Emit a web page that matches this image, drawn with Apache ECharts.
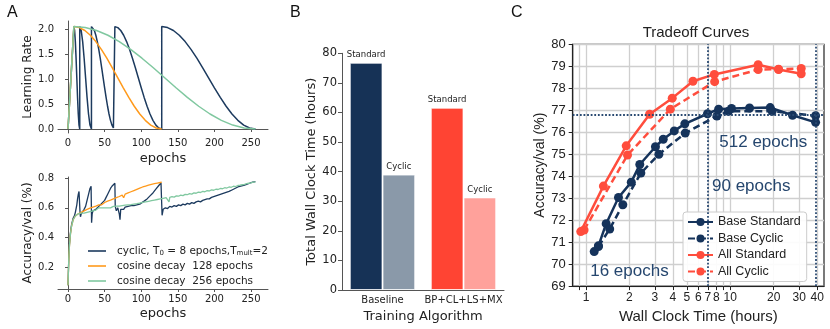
<!DOCTYPE html>
<html>
<head>
<meta charset="utf-8">
<script src="https://cdn.jsdelivr.net/npm/echarts@6/dist/echarts.min.js"></script>
<style>
  html, body { margin: 0; padding: 0; background: #fff; }
  #chart { width: 830px; height: 329px; }
</style>
</head>
<body>
<div id="chart"></div>
<script>
// ---- panel A: learning rate schedules [epoch, lr]
const lrCyclic = [
  [0, 0], [8, 2.048], [9, 1.970], [10, 1.748], [11, 1.416], [12, 1.024], [13, 0.632], [14, 0.300], [15, 0.078], [16, 0],
  [16, 2.048], [18, 1.970], [20, 1.748], [22, 1.416], [24, 1.024], [26, 0.632], [28, 0.300], [30, 0.078], [32, 0],
  [32, 2.048], [34, 2.028], [36, 1.970], [38, 1.875], [40, 1.748], [42, 1.593], [44, 1.416], [46, 1.224], [48, 1.024],
  [50, 0.824], [52, 0.632], [54, 0.455], [56, 0.300], [58, 0.173], [60, 0.078], [62, 0.020], [64, 0],
  [64, 2.048], [68, 2.028], [72, 1.970], [76, 1.875], [80, 1.748], [84, 1.593], [88, 1.416], [92, 1.224], [96, 1.024],
  [100, 0.824], [104, 0.632], [108, 0.455], [112, 0.300], [116, 0.173], [120, 0.078], [124, 0.020], [128, 0],
  [128, 2.048], [136, 2.028], [144, 1.970], [152, 1.875], [160, 1.748], [168, 1.593], [176, 1.416], [184, 1.224], [192, 1.024],
  [200, 0.824], [208, 0.632], [216, 0.455], [224, 0.300], [232, 0.173], [240, 0.078], [248, 0.020], [256, 0]
];
const lrCos128 = [
  [0, 0], [8, 2.048], [15.5, 2.028], [23, 1.970], [30.5, 1.875], [38, 1.748], [45.5, 1.593], [53, 1.416], [60.5, 1.224],
  [68, 1.024], [75.5, 0.824], [83, 0.632], [90.5, 0.455], [98, 0.300], [105.5, 0.173], [113, 0.078], [120.5, 0.020], [128, 0]
];
const lrCos256 = [
  [0, 0], [8, 2.048], [23.5, 2.028], [39, 1.970], [54.5, 1.875], [70, 1.748], [85.5, 1.593], [101, 1.416], [116.5, 1.224],
  [132, 1.024], [147.5, 0.824], [163, 0.632], [178.5, 0.455], [194, 0.300], [209.5, 0.173], [225, 0.078], [240.5, 0.020], [256, 0]
];

// ---- panel A: validation accuracy [epoch, acc]
const accCyclic = [
  [0, 0.08], [1, 0.26], [2, 0.36], [3, 0.42], [4, 0.46], [5, 0.49], [6, 0.51], [7, 0.53], [8, 0.54], [9, 0.55], [10, 0.57],
  [11, 0.58], [12, 0.62], [13, 0.66], [14, 0.69], [15, 0.71], [16, 0.70], [16.5, 0.56], [17, 0.54], [18, 0.56], [20, 0.57],
  [22, 0.59], [24, 0.61], [26, 0.65], [28, 0.69], [30, 0.73], [31.5, 0.745], [32.2, 0.50], [33, 0.56], [34, 0.58], [36, 0.57],
  [38, 0.59], [40, 0.60], [42, 0.61], [44, 0.60], [46, 0.63], [48, 0.64], [50, 0.65], [52, 0.67], [54, 0.69], [56, 0.71],
  [58, 0.73], [60, 0.745], [62, 0.755], [64, 0.765], [64.5, 0.61], [66, 0.58], [68, 0.60], [70, 0.56], [71, 0.52], [72, 0.59],
  [74, 0.60], [76, 0.59], [78, 0.605], [80, 0.60], [82, 0.61], [84, 0.60], [86, 0.615], [88, 0.62], [90, 0.615], [92, 0.625],
  [94, 0.62], [96, 0.63], [98, 0.625], [100, 0.635], [104, 0.645], [108, 0.66], [112, 0.68], [116, 0.70], [120, 0.725],
  [124, 0.75], [127, 0.768], [128, 0.772], [128.5, 0.55], [130, 0.59], [133, 0.60], [136, 0.595], [139, 0.61], [142, 0.605],
  [145, 0.615], [148, 0.61], [151, 0.62], [154, 0.615], [157, 0.625], [160, 0.62], [163, 0.63], [166, 0.625], [169, 0.635],
  [172, 0.63], [175, 0.64], [178, 0.645], [181, 0.64], [184, 0.65], [187, 0.655], [190, 0.66], [193, 0.66], [196, 0.67],
  [199, 0.675], [202, 0.68], [205, 0.685], [208, 0.69], [211, 0.695], [214, 0.70], [217, 0.705], [220, 0.71], [224, 0.72],
  [228, 0.73], [232, 0.74], [236, 0.745], [240, 0.75], [244, 0.758], [248, 0.765], [252, 0.772], [256, 0.776]
];
const accCos128 = [
  [0, 0.08], [1, 0.25], [2, 0.35], [3, 0.41], [4, 0.45], [5, 0.48], [6, 0.50], [7, 0.52], [8, 0.53], [10, 0.545], [12, 0.555],
  [14, 0.56], [16, 0.565], [18, 0.57], [20, 0.575], [22, 0.58], [24, 0.585], [26, 0.59], [28, 0.592], [30, 0.598], [32, 0.60],
  [34, 0.605], [36, 0.61], [38, 0.612], [40, 0.618], [42, 0.62], [44, 0.626], [46, 0.62], [48, 0.632], [50, 0.636], [52, 0.64],
  [54, 0.645], [56, 0.642], [58, 0.652], [60, 0.655], [62, 0.66], [64, 0.664], [66, 0.668], [68, 0.664], [70, 0.676], [72, 0.68],
  [74, 0.685], [76, 0.668], [78, 0.692], [80, 0.696], [82, 0.70], [84, 0.69], [86, 0.708], [88, 0.712], [90, 0.716], [92, 0.72],
  [94, 0.724], [96, 0.728], [98, 0.732], [100, 0.736], [102, 0.74], [104, 0.743], [106, 0.746], [108, 0.75], [110, 0.752],
  [112, 0.755], [114, 0.758], [116, 0.76], [118, 0.762], [120, 0.764], [122, 0.766], [124, 0.768], [126, 0.77], [128, 0.772]
];
const accCos256 = [
  [0, 0.08], [1, 0.25], [2, 0.35], [3, 0.41], [4, 0.45], [5, 0.48], [6, 0.50], [7, 0.52], [8, 0.53], [10, 0.545], [12, 0.55],
  [14, 0.56], [16, 0.555], [18, 0.565], [20, 0.57], [22, 0.565], [24, 0.575], [26, 0.57], [28, 0.58], [30, 0.575], [32, 0.585],
  [34, 0.58], [36, 0.59], [38, 0.585], [40, 0.59], [42, 0.60], [44, 0.59], [46, 0.60], [48, 0.595], [50, 0.60], [52, 0.605],
  [54, 0.60], [56, 0.61], [58, 0.60], [60, 0.605], [62, 0.61], [64, 0.605], [66, 0.612], [68, 0.60], [70, 0.612], [72, 0.61],
  [74, 0.615], [76, 0.605], [78, 0.618], [80, 0.615], [82, 0.62], [84, 0.61], [86, 0.622], [88, 0.618], [90, 0.625], [92, 0.62],
  [94, 0.628], [96, 0.625], [98, 0.632], [100, 0.63], [102, 0.636], [104, 0.632], [106, 0.64], [108, 0.636], [110, 0.644],
  [112, 0.64], [114, 0.648], [116, 0.645], [118, 0.652], [120, 0.65], [122, 0.656], [124, 0.652], [126, 0.66], [128, 0.658],
  [130, 0.664], [132, 0.66], [134, 0.668], [136, 0.665], [138, 0.64], [139, 0.67], [142, 0.675], [145, 0.672], [148, 0.68],
  [151, 0.678], [154, 0.685], [157, 0.682], [160, 0.69], [163, 0.688], [166, 0.695], [169, 0.692], [172, 0.70], [175, 0.698],
  [178, 0.705], [181, 0.703], [184, 0.71], [187, 0.708], [190, 0.715], [193, 0.713], [196, 0.72], [199, 0.718], [202, 0.725],
  [205, 0.723], [208, 0.73], [211, 0.728], [214, 0.735], [217, 0.733], [220, 0.74], [223, 0.738], [226, 0.745], [229, 0.743],
  [232, 0.75], [235, 0.752], [238, 0.755], [241, 0.758], [244, 0.762], [247, 0.765], [250, 0.768], [253, 0.772], [256, 0.775]
];
const aEpochTicks = [0, 50, 100, 150, 200, 250];
const aLrTicks = [0, 0.5, 1, 1.5, 2];
const aAccTicks = [0.2, 0.4, 0.6, 0.8];

// ---- panel B: total wall clock time (hours)
const bCategories = ['Baseline', 'BP+CL+LS+MX'];
const bStandard = [76.8, 61.6];
const bCyclic = [39.0, 31.3];

// ---- panel C: tradeoff curves [hours, acc %]
const cBaseStandard = [
  [1.14, 70.57], [1.22, 70.83], [1.38, 71.84], [1.68, 73.03], [2.06, 73.73], [2.36, 74.53], [3.03, 75.34], [3.43, 75.68],
  [4.09, 76.06], [4.84, 76.38], [6.95, 76.84], [8.3, 77.05], [10.2, 77.08], [13.6, 77.1], [18.9, 77.12], [27.0, 76.77], [39.0, 76.45]
];
const cBaseCyclic = [
  [1.22, 70.8], [1.46, 71.6], [1.8, 72.7], [2.40, 74.14], [3.2, 75.0], [4.87, 75.96], [8.08, 76.74], [9.7, 76.95],
  [19.5, 76.95], [39.0, 76.75]
];
const cAllStandard = [
  [0.92, 71.48], [1.32, 73.55], [1.90, 75.38], [2.76, 76.82], [3.96, 77.55], [5.51, 78.32], [7.75, 78.63], [15.6, 79.07],
  [21.6, 78.85], [31.0, 78.66]
];
const cAllCyclic = [
  [0.97, 71.55], [1.94, 74.96], [3.84, 77.05], [7.79, 78.3], [15.6, 78.85], [21.6, 78.87], [31.0, 78.9]
];
const cHourLabels = [1, 2, 3, 4, 5, 6, 7, 8, 10, 20, 30, 40];
const cHourGrid = [0.9, 1, 2, 3, 4, 5, 6, 7, 8, 9, 10, 20, 30, 40];
const cRefHours = [6.95, 39.0];
const cRefAcc = 76.81;

const NAVY = '#1c3a5e';
const ORANGE = '#ff9a1c';
const GREEN = '#80c8a0';
const C_NAVY = '#15335b';
const C_RED = '#ff4d3d';
const FONT = 'DejaVu Sans';
const FONT_C = 'Liberation Sans';

const chart = echarts.init(document.getElementById('chart'));

const aAxisLine = { lineStyle: { color: '#555', width: 1 } };
const aTick = { show: true, length: 3, lineStyle: { color: '#555' } };
const aLabel = { fontFamily: FONT, fontSize: 10, color: '#222' };

const legendNames = {
  cyclic: 'cyclic, T{s|0} = 8 epochs,T{s|mult}=2',
  cos128: 'cosine decay  128 epochs',
  cos256: 'cosine decay  256 epochs'
};

const option = {
  animation: false,
  backgroundColor: '#fff',
  grid: [
    { left: 58, top: 21, width: 210, height: 112 },
    { left: 58, top: 177, width: 210, height: 112 },
    { left: 342, top: 53.3, width: 162, height: 236.7 },
    { left: 572.7, top: 44.3, width: 251.3, height: 245.3, show: true, borderColor: '#222', borderWidth: 1.2 }
  ],
  xAxis: [
    {
      gridIndex: 0, type: 'value', min: -13.7, max: 273.2,
      name: 'epochs', nameLocation: 'middle', nameGap: 19,
      nameTextStyle: { fontFamily: FONT, fontSize: 13, color: '#222' },
      axisLine: aAxisLine, axisTick: Object.assign({ customValues: aEpochTicks }, aTick),
      axisLabel: Object.assign({ customValues: aEpochTicks, margin: 5 }, aLabel),
      splitLine: { show: false }
    },
    {
      gridIndex: 1, type: 'value', min: -13.7, max: 273.2,
      name: 'epochs', nameLocation: 'middle', nameGap: 18,
      nameTextStyle: { fontFamily: FONT, fontSize: 13, color: '#222' },
      axisLine: aAxisLine, axisTick: Object.assign({ customValues: aEpochTicks }, aTick),
      axisLabel: Object.assign({ customValues: aEpochTicks, margin: 5 }, aLabel),
      splitLine: { show: false }
    },
    {
      gridIndex: 2, type: 'category', data: bCategories,
      name: 'Training Algorithm', nameLocation: 'middle', nameGap: 17,
      nameTextStyle: { fontFamily: FONT, fontSize: 13, color: '#222' },
      axisLine: { lineStyle: { color: '#555' } },
      axisTick: { alignWithLabel: true, length: 4, lineStyle: { color: '#555' } },
      axisLabel: { interval: 0, hideOverlap: false, fontFamily: FONT, fontSize: 10, color: '#222', margin: 5 }
    },
    {
      gridIndex: 3, type: 'log', logBase: 10, min: 0.809, max: 44.6,
      name: 'Wall Clock Time (hours)', nameLocation: 'middle', nameGap: 20,
      nameTextStyle: { fontFamily: FONT_C, fontSize: 15, color: '#222' },
      axisLine: { show: true, lineStyle: { color: '#222', width: 1.2 } },
      axisTick: { show: true, length: 4, customValues: cHourGrid, lineStyle: { color: '#222' } },
      axisLabel: { customValues: cHourLabels, fontFamily: FONT_C, fontSize: 12, color: '#222', margin: 6, formatter: v => String(v) },
      splitLine: { show: true, lineStyle: { color: '#cfcfcf', width: 1.3 } },
      minorTick: { show: false }
    }
  ],
  yAxis: [
    {
      gridIndex: 0, type: 'value', min: -0.08, max: 2.16,
      name: 'Learning Rate', nameLocation: 'middle', nameGap: 24,
      nameTextStyle: { fontFamily: FONT, fontSize: 12, color: '#222' },
      axisLine: Object.assign({ show: true }, aAxisLine), axisTick: Object.assign({ customValues: aLrTicks }, aTick),
      axisLabel: Object.assign({ customValues: aLrTicks, margin: 4, formatter: v => v.toFixed(1) }, aLabel),
      splitLine: { show: false }
    },
    {
      gridIndex: 1, type: 'value', min: 0.055, max: 0.807,
      name: 'Accuracy/val (%)', nameLocation: 'middle', nameGap: 24,
      nameTextStyle: { fontFamily: FONT, fontSize: 12, color: '#222' },
      axisLine: Object.assign({ show: true }, aAxisLine), axisTick: Object.assign({ customValues: aAccTicks }, aTick),
      axisLabel: Object.assign({ customValues: aAccTicks, margin: 4, formatter: v => v.toFixed(1) }, aLabel),
      splitLine: { show: false }
    },
    {
      gridIndex: 2, type: 'value', min: 0, max: 80, interval: 10,
      name: 'Total Wall Clock Time (hours)', nameLocation: 'middle', nameGap: 24,
      nameTextStyle: { fontFamily: FONT, fontSize: 13, color: '#222' },
      axisLine: { show: true, lineStyle: { color: '#555' } },
      axisTick: { show: true, length: 4, lineStyle: { color: '#555' } },
      axisLabel: { fontFamily: FONT, fontSize: 11.5, color: '#222', margin: 5 },
      splitLine: { show: false }
    },
    {
      gridIndex: 3, type: 'value', min: 69, max: 80, interval: 1,
      name: 'Accuracy/val (%)', nameLocation: 'middle', nameGap: 23,
      nameTextStyle: { fontFamily: FONT_C, fontSize: 14, color: '#222' },
      axisLine: { show: true, lineStyle: { color: '#222', width: 1.2 } },
      axisTick: { show: true, length: 4, lineStyle: { color: '#222' } },
      axisLabel: { fontFamily: FONT_C, fontSize: 13, color: '#222', margin: 7 },
      splitLine: { show: true, lineStyle: { color: '#cfcfcf', width: 1.3 } }
    }
  ],
  legend: [
    {
      data: ['cyclic', 'cos128', 'cos256'],
      left: 83, top: 240, orient: 'vertical', itemGap: 3, itemWidth: 18, itemHeight: 1.6,
      icon: 'rect',
      formatter: name => legendNames[name],
      textStyle: {
        fontFamily: FONT, fontSize: 10.5, color: '#222', lineHeight: 12, padding: [0, 0, 0, 6],
        rich: { s: { fontFamily: FONT, fontSize: 7, color: '#222', lineHeight: 12, verticalAlign: 'bottom', padding: [5, 0, 0, 0] } }
      }
    },
    {
      data: ['Base Standard', 'Base Cyclic', 'All Standard', 'All Cyclic'],
      left: 683, top: 212, orient: 'vertical', itemGap: 2.5, itemWidth: 25, itemHeight: 10,
      padding: [3, 6, 3, 4], backgroundColor: 'rgba(255,255,255,0.9)', borderColor: '#cccccc', borderWidth: 1, borderRadius: 3,
      textStyle: { fontFamily: FONT_C, fontSize: 12.5, color: '#222', lineHeight: 14 }
    }
  ],
  graphic: [
    { type: 'text', left: 7, top: 5, style: { text: 'A', font: '16px "Liberation Sans"', fill: '#111' } },
    { type: 'text', left: 290, top: 5, style: { text: 'B', font: '16px "Liberation Sans"', fill: '#111' } },
    { type: 'text', left: 511, top: 5, style: { text: 'C', font: '16px "Liberation Sans"', fill: '#111' } },
    { type: 'text', x: 696, y: 33, style: { text: 'Tradeoff Curves', font: '15px "Liberation Sans"', fill: '#222', align: 'center', verticalAlign: 'middle' } }
  ],
  series: [
    { name: 'cyclic', type: 'line', xAxisIndex: 0, yAxisIndex: 0, data: lrCyclic, showSymbol: false, symbol: 'none', lineStyle: { color: NAVY, width: 1.5 }, itemStyle: { color: NAVY } },
    { name: 'cos128', type: 'line', xAxisIndex: 0, yAxisIndex: 0, data: lrCos128, showSymbol: false, symbol: 'none', lineStyle: { color: ORANGE, width: 1.5 }, itemStyle: { color: ORANGE } },
    { name: 'cos256', type: 'line', xAxisIndex: 0, yAxisIndex: 0, data: lrCos256, showSymbol: false, symbol: 'none', lineStyle: { color: GREEN, width: 1.5 }, itemStyle: { color: GREEN } },
    { name: 'cyclic', type: 'line', xAxisIndex: 1, yAxisIndex: 1, data: accCyclic, showSymbol: false, symbol: 'none', lineStyle: { color: NAVY, width: 1.3 }, itemStyle: { color: NAVY } },
    { name: 'cos128', type: 'line', xAxisIndex: 1, yAxisIndex: 1, data: accCos128, showSymbol: false, symbol: 'none', lineStyle: { color: ORANGE, width: 1.3 }, itemStyle: { color: ORANGE } },
    { name: 'cos256', type: 'line', xAxisIndex: 1, yAxisIndex: 1, data: accCos256, showSymbol: false, symbol: 'none', lineStyle: { color: GREEN, width: 1.3 }, itemStyle: { color: GREEN } },
    {
      name: 'Standard', type: 'bar', xAxisIndex: 2, yAxisIndex: 2, data: bStandard, barWidth: 32.7, barGap: '0%',
      itemStyle: { color: p => ['#163256', '#ff4433'][p.dataIndex], borderColor: 'rgba(255,255,255,0.7)', borderWidth: 1 },
      label: { show: true, position: 'top', distance: 3, formatter: 'Standard', fontFamily: FONT, fontSize: 8.5, color: '#222' }
    },
    {
      name: 'Cyclic', type: 'bar', xAxisIndex: 2, yAxisIndex: 2, data: bCyclic, barWidth: 32.7, barGap: '0%',
      itemStyle: { color: p => ['#8a99a9', '#ffa19b'][p.dataIndex], borderColor: 'rgba(255,255,255,0.7)', borderWidth: 1 },
      label: { show: true, position: 'top', distance: 3, formatter: 'Cyclic', fontFamily: FONT, fontSize: 8.5, color: '#222' }
    },
    {
      name: 'Base Standard', type: 'line', xAxisIndex: 3, yAxisIndex: 3, data: cBaseStandard,
      symbol: 'circle', symbolSize: 9, lineStyle: { color: C_NAVY, width: 2.5 }, itemStyle: { color: C_NAVY },
      markLine: {
        silent: true, symbol: 'none', label: { show: false },
        lineStyle: { color: '#2a4a72', type: 'dotted', width: 1.8 },
        data: cRefHours.map(h => ({ xAxis: h })).concat([{ yAxis: cRefAcc }])
      },
      markPoint: {
        silent: true, symbol: 'circle', symbolSize: 0,
        label: { show: true, position: 'right', distance: 0, formatter: '{b}', fontFamily: FONT_C, fontSize: 17, color: '#25466e' },
        data: [
          { name: '16 epochs', coord: [1.07, 69.65] },
          { name: '90 epochs', coord: [7.47, 73.56] },
          { name: '512 epochs', coord: [8.39, 75.56] }
        ]
      }
    },
    {
      name: 'Base Cyclic', type: 'line', xAxisIndex: 3, yAxisIndex: 3, data: cBaseCyclic,
      symbol: 'circle', symbolSize: 9, lineStyle: { color: C_NAVY, width: 2.5, type: [7, 4] }, itemStyle: { color: C_NAVY }
    },
    {
      name: 'All Standard', type: 'line', xAxisIndex: 3, yAxisIndex: 3, data: cAllStandard,
      symbol: 'circle', symbolSize: 9, lineStyle: { color: C_RED, width: 2.5 }, itemStyle: { color: C_RED }
    },
    {
      name: 'All Cyclic', type: 'line', xAxisIndex: 3, yAxisIndex: 3, data: cAllCyclic,
      symbol: 'circle', symbolSize: 9, lineStyle: { color: C_RED, width: 2.5, type: [7, 4] }, itemStyle: { color: C_RED }
    }
  ]
};

chart.setOption(option);
</script>
</body>
</html>
